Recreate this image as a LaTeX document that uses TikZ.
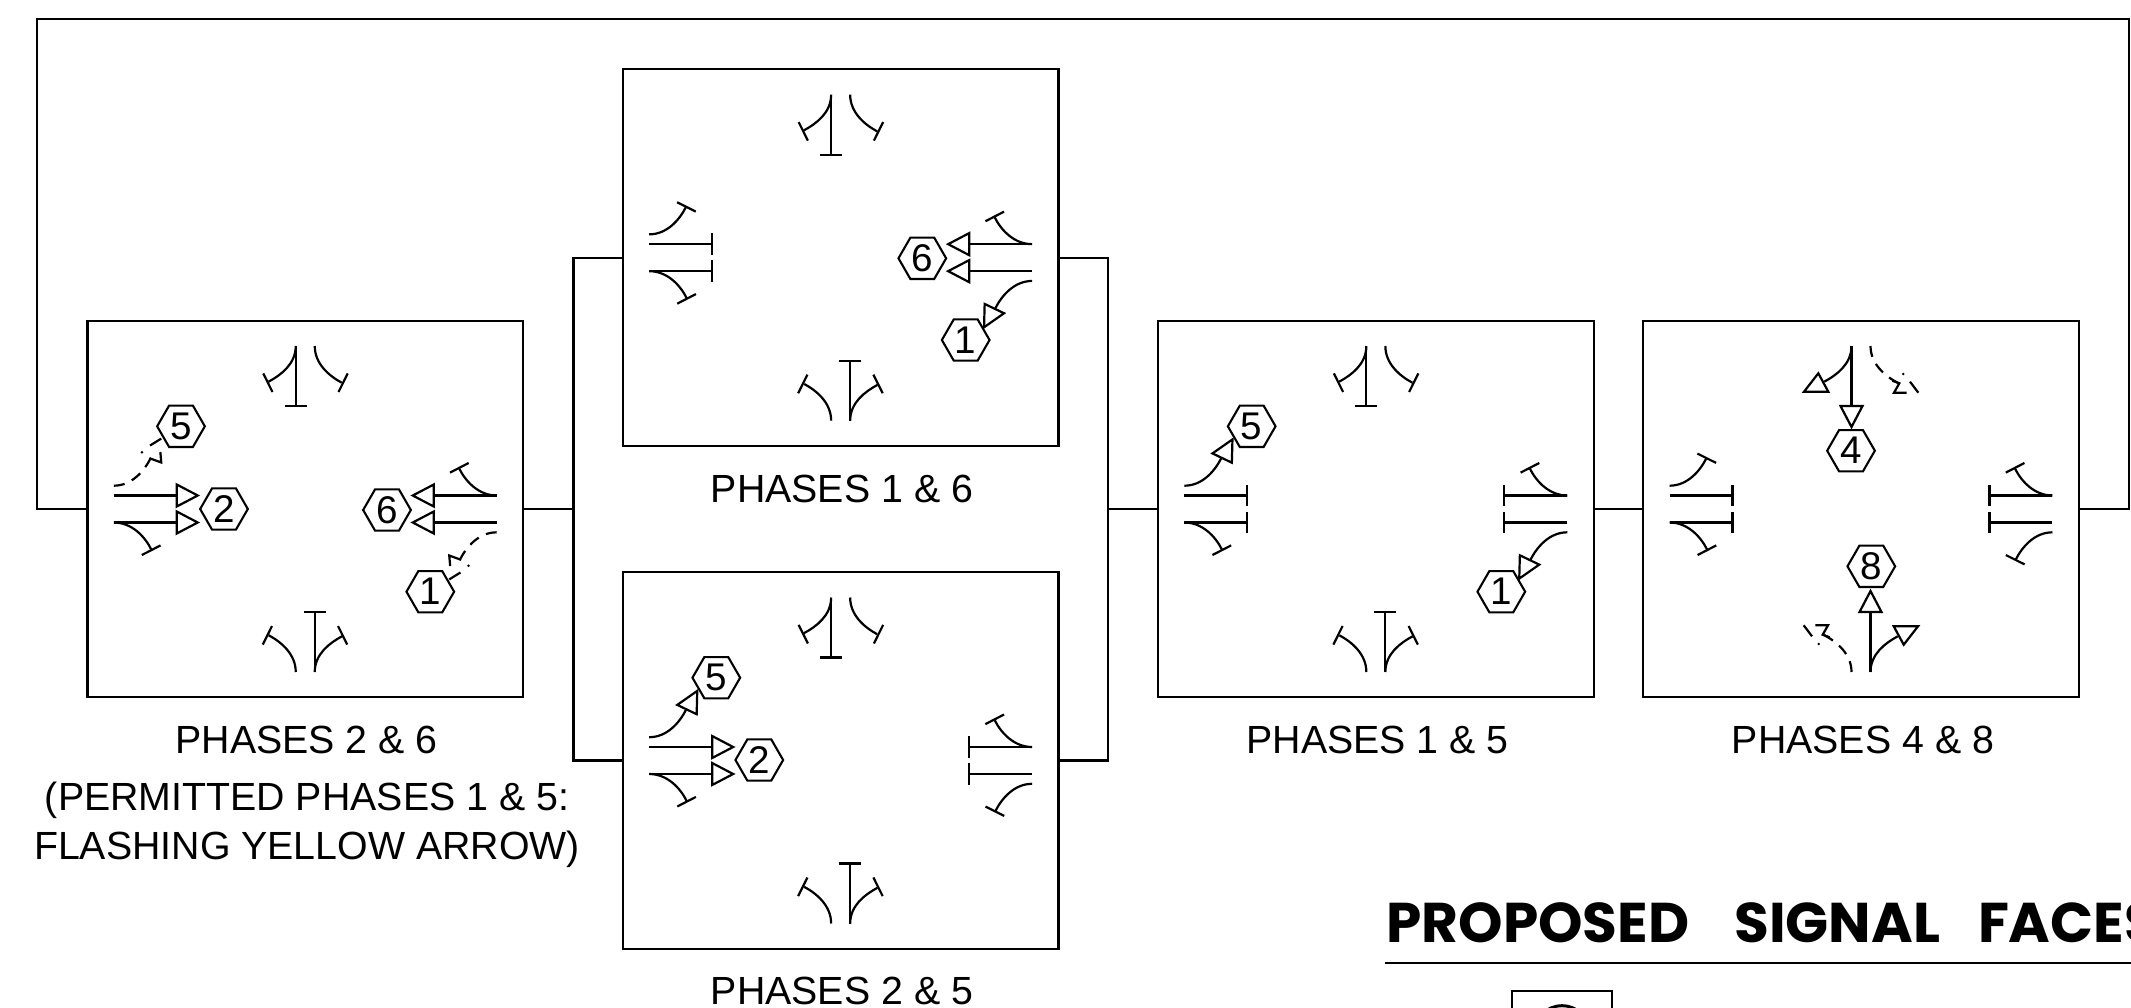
\documentclass[tikz,border=0pt]{standalone}
\usepackage{fontspec}
\setmainfont{Liberation Sans}
\newfontfamily\titlefont[FakeStretch=1.01]{Poppins}
\usetikzlibrary{shapes.geometric}
\tikzset{
  sig/.style={line width=1.1pt,line join=miter},
  flash/.style={sig,dash pattern=on 5.5pt off 4pt},
  phasebox/.style={draw,line width=1.1pt,inner sep=0pt,minimum width=217.75pt,minimum height=188.3pt},
  wire/.style={line width=1.1pt},
  hexa/.style={draw,fill=white,line width=1.05pt,regular polygon,regular polygon sides=6,minimum size=23.85pt,inner sep=0pt,font=\fontsize{19.3}{22}\selectfont},
  plabel/.style={anchor=base,inner sep=0pt,font=\fontsize{19.65}{24}\selectfont},
}
% West approach (relative to the box centre; 180 degree rotation gives the east one)
\newcommand\wLeftCurve[1]{\draw[#1] (-191.45,-23.3) .. controls (-173.5,-23.3) and (-161,-38) .. (-154.5,-51);}
\newcommand\wLeftStop{\wLeftCurve{sig}\draw[sig] (-163.6,-55.4) -- (-144.9,-46.1);}
\newcommand\wLeftGo{\wLeftCurve{sig}\draw[sig] (-163.4,-55.6) -- (-143.4,-69.6) -- (-144,-46.3) -- cycle;}
\newcommand\wLeftFlash{\wLeftCurve{flash}
  \draw[sig] (-155.75,-50.8) -- (-144,-46.5) -- (-144.9,-57);
  \draw[sig] (-155.2,-63.5) -- (-144,-70.4);
  \fill (-163.3,-56.7) circle (.7pt);}
\newcommand\wThru[1]{\draw[sig] (-191.45,#1) -- (-128.5,#1);}
\newcommand\wThruStop{\wThru{-13.5}\wThru{13.5}
  \draw[sig] (-128.5,-24.2) -- (-128.5,-2.8);
  \draw[sig] (-128.5,2.8) -- (-128.5,24.2);}
\newcommand\wThruGo{\wThru{-13.5}\wThru{13.5}
  \draw[sig] (-128.5,-24.5) -- (-107.5,-13.5) -- (-128.5,-2.5) -- cycle;
  \draw[sig] (-128.5,2.5) -- (-107.5,13.5) -- (-128.5,24.5) -- cycle;}
\newcommand\wRight{\draw[sig] (-191.45,13.5) .. controls (-173.5,13.5) and (-160.5,27.4) .. (-154,40.4);
  \draw[sig] (-163.4,46) -- (-144.75,36.4);}
% North approach (180 degree rotation gives the south one)
\newcommand\nLeftCurve{\draw[sig] (-9.5,-163) .. controls (-9.5,-145) and (-24.4,-133.9) .. (-36.75,-127.3);}
\newcommand\nLeftStop{\nLeftCurve\draw[sig] (-42,-135.6) -- (-32.75,-117);}
\newcommand\nLeftGo{\nLeftCurve\draw[sig] (-42.7,-135.7) -- (-57,-117.3) -- (-32.7,-117.3) -- cycle;}
\newcommand\nThruStop{\draw[sig] (-9.5,-163) -- (-9.5,-103);\draw[sig] (-20.5,-103) -- (1.5,-103);}
\newcommand\nThruGo{\draw[sig] (-9.5,-163) -- (-9.5,-103);\draw[sig] (-20.5,-103) -- (1.5,-103) -- (-9.5,-82) -- cycle;}
\newcommand\nRightStop{\draw[sig] (9.5,-163) .. controls (9.5,-145) and (24.2,-132.9) .. (36.5,-126.3);
  \draw[sig] (42.5,-135.6) -- (33.25,-117);}
\newcommand\nRightFlash{\draw[flash] (9.5,-163) .. controls (9.5,-145) and (24.2,-132.9) .. (36.5,-126.3);
  \draw[sig] (31.3,-128.3) -- (38.3,-125.7) -- (33,-116.3) -- (45.7,-116.3);
  \fill (42.3,-135) circle (.7pt);
  \draw[sig] (49,-127.3) -- (57.3,-116.3);}
\newcommand\atBox[3]{\begin{scope}[shift={(#1)},rotate=#2]#3\end{scope}}
\begin{document}
\begin{tikzpicture}[x=.5pt,y=-.5pt]
\path[use as bounding box] (0,0) rectangle (2131,1007);
\clip (0,0) rectangle (2131,1007);
\fill[white] (0,0) rectangle (2131,1007);
% boxes
\node[phasebox] (b1) at (305.25,509) {};
\node[phasebox] (b2) at (840.65,257.65) {};
\node[phasebox] (b3) at (840.65,760.5) {};
\node[phasebox] (b4) at (1375.85,509) {};
\node[phasebox] (b5) at (1861,509) {};
% connectors
\coordinate (busL) at (573.5,509);
\coordinate (busR) at (1108,509);
\coordinate (outA) at (37,19);
\coordinate (outB) at (2129,19);
\draw[wire] (b1.east) -- (busL);
\draw[wire] (b2.west) -| (busL) |- (b3.west);
\draw[wire] (b2.east) -| (busR) |- (b3.east);
\draw[wire] (busR) -- (b4.west);
\draw[wire] (b4.east) -- (b5.west);
\draw[wire] (b1.west) -| (outA) -- (outB) |- (b5.east);
% box 1: phases 2 & 6
\atBox{b1.center}{0}{\wLeftFlash\wThruGo\wRight\nLeftStop\nThruStop\nRightStop}
\atBox{b1.center}{180}{\wLeftFlash\wThruGo\wRight\nLeftStop\nThruStop\nRightStop}
% box 2: phases 1 & 6
\atBox{b2.center}{0}{\wLeftStop\wThruStop\wRight\nLeftStop\nThruStop\nRightStop}
\atBox{b2.center}{180}{\wLeftGo\wThruGo\wRight\nLeftStop\nThruStop\nRightStop}
% box 3: phases 2 & 5
\atBox{b3.center}{0}{\wLeftGo\wThruGo\wRight\nLeftStop\nThruStop\nRightStop}
\atBox{b3.center}{180}{\wLeftStop\wThruStop\wRight\nLeftStop\nThruStop\nRightStop}
% box 4: phases 1 & 5
\atBox{b4.center}{0}{\wLeftGo\wThruStop\wRight\nLeftStop\nThruStop\nRightStop}
\atBox{b4.center}{180}{\wLeftGo\wThruStop\wRight\nLeftStop\nThruStop\nRightStop}
% box 5: phases 4 & 8
\atBox{b5.center}{0}{\wLeftStop\wThruStop\wRight\nLeftGo\nThruGo\nRightFlash}
\atBox{b5.center}{180}{\wLeftStop\wThruStop\wRight\nLeftGo\nThruGo\nRightFlash}
% phase numbers
\node[hexa] (h15) at (181,426.3) {5};
\node[hexa] (h12) at (224,509) {2};
\node[hexa] (h16) at (387,510) {6};
\node[hexa] (h11) at (430.3,591.7) {1};
\node[hexa] (h26) at (922.3,258.3) {6};
\node[hexa] (h21) at (965.7,340) {1};
\node[hexa] (h35) at (716.3,677.7) {5};
\node[hexa] (h32) at (759.3,760) {2};
\node[hexa] (h45) at (1251.7,426.3) {5};
\node[hexa] (h41) at (1501.3,591.7) {1};
\node[hexa] (h54) at (1851,450.7) {4};
\node[hexa] (h58) at (1871.3,566.3) {8};
% labels
\node[plabel] (l1) at (306.5,753.5) {PHASES 2 \& 6};
\node[plabel] (l1a) at (307,810) {(PERMITTED PHASES 1 \& 5:};
\node[plabel] (l1b) at (307,859) {FLASHING YELLOW ARROW)};
\node[plabel] (l2) at (842,502.2) {PHASES 1 \& 6};
\node[plabel] (l3) at (842,1004.3) {PHASES 2 \& 5};
\node[plabel] (l4) at (1377.7,753.5) {PHASES 1 \& 5};
\node[plabel] (l5) at (1863,753.5) {PHASES 4 \& 8};
% title block
\node[anchor=base west,inner sep=0pt,font=\titlefont\bfseries\fontsize{28}{32}\selectfont] (title) at (1386,942.3) {PROPOSED\hspace{22.5pt}SIGNAL\hspace{19pt}FACES};
\coordinate (ruleA) at (1384.6,963);
\coordinate (ruleB) at (2135,963);
\draw[line width=1.15pt] (ruleA) -- (ruleB);
\draw[wire] (1511.6,1030) -- (1511.6,991) -- (1611.7,991) -- (1611.7,1030);
\draw[line width=1.5pt] (1562,1033.7) circle (14pt);
\end{tikzpicture}
\end{document}
